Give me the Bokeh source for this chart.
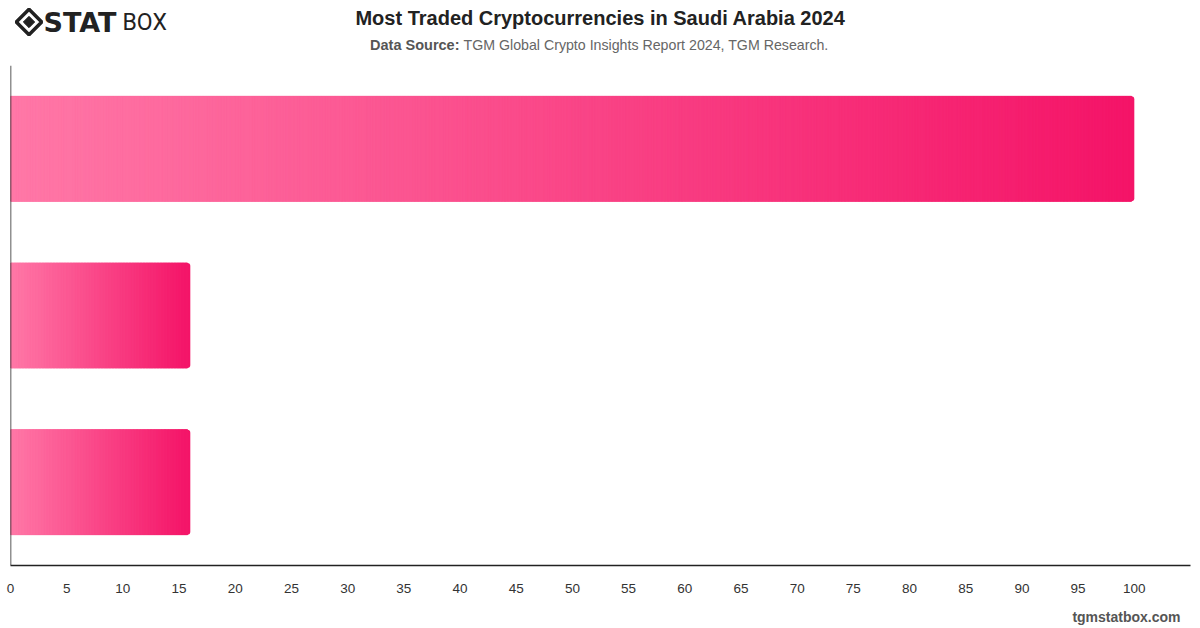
from bokeh.plotting import figure
from bokeh.layouts import column
from bokeh.models import ColumnDataSource, FactorRange, Range1d, FixedTicker, Span
from bokeh.core.properties import value
from bokeh.embed import file_html
from bokeh.resources import INLINE

# Data
categories = ["Bitcoin", "Ethereum", "Tether"]
shares = [100, 16, 16]
x_ticks = list(range(0, 101, 5))

TITLE = "Most Traded Cryptocurrencies in Saudi Arabia 2024"
SOURCE_LABEL = "Data Source:"
SOURCE_TEXT = "TGM Global Crypto Insights Report 2024, TGM Research."
FOOTER = "tgmstatbox.com"

# Gradient endpoints for the bars (left -> right)
LEFT_RGB = (255, 120, 167)
RIGHT_RGB = (244, 20, 104)
SLICES_PER_UNIT = 4

W = 1200
PAD = 10  # side padding of the chart frame
HEADER_H, MAIN_H, FOOTER_H = 65, 534, 29
FONT = "Liberation Sans"


def text_strip(height):
    """A blank figure whose data units are pixels, y growing downwards."""
    f = figure(width=W, height=height, x_range=Range1d(PAD, W - PAD),
               y_range=Range1d(height, 0),
               output_backend="svg", toolbar_location=None,
               min_border_left=PAD, min_border_right=PAD,
               min_border_top=0, min_border_bottom=0)
    f.axis.visible = False
    f.grid.visible = False
    f.outline_line_color = None
    f.background_fill_color = "white"
    f.border_fill_color = "white"
    return f


# Header: logo, title and source line
header = text_strip(HEADER_H)
header.scatter(x=[28.5], y=[21.5], marker="square", angle=0.785398, size=18,
               fill_color=None, line_color="#222222", line_width=3.5)
header.scatter(x=[28.5], y=[21.5], marker="square", angle=0.785398, size=8,
               fill_color="#222222", line_color="#222222")
header.text(x=[43], y=[22], text=["STAT"], text_font=value("DejaVu Sans"),
            text_font_size="27px", text_font_style="bold", text_color="#222222",
            text_align="left", text_baseline="middle")
header.text(x=[122], y=[22], text=["BOX"], text_font=value("Roboto"),
            text_font_size="23px", text_color="#222222", text_align="left",
            text_baseline="middle")
header.text(x=[600], y=[17], text=[TITLE], text_font=value(FONT),
            text_font_size="20px", text_font_style="bold", text_color="#222222",
            text_align="center", text_baseline="middle")
header.text(x=[459], y=[44], text=[SOURCE_LABEL], text_font=value(FONT),
            text_font_size="14.5px", text_font_style="bold", text_color="#555555",
            text_align="right", text_baseline="middle")
header.text(x=[463], y=[44], text=[SOURCE_TEXT], text_font=value(FONT),
            text_font_size="14.2px", text_color="#666666", text_align="left",
            text_baseline="middle")

# Main chart
p = figure(
    width=W, height=MAIN_H,
    y_range=FactorRange(*reversed(categories)),
    x_range=Range1d(0, 105),
    output_backend="svg", toolbar_location=None,
    min_border_left=PAD, min_border_right=PAD,
    min_border_top=0, min_border_bottom=MAIN_H - 500,
)
p.outline_line_color = None
p.grid.visible = False
p.yaxis.visible = False
p.background_fill_color = "white"
p.border_fill_color = "white"


def mix(t):
    r, g, b = (round(a + (c - a) * t) for a, c in zip(LEFT_RGB, RIGHT_RGB))
    return f"#{r:02x}{g:02x}{b:02x}"


# Solid end-colour bar with rounded right corners underneath
p.hbar(y=categories, left=0, right=shares, height=0.63,
       fill_color=mix(1.0), line_color=None, border_radius=(0, 3, 3, 0))

# Horizontal gradient built from thin slices of each bar
ys, lefts, rights, colors = [], [], [], []
for cat, v in zip(categories, shares):
    n = max(20, int(v * SLICES_PER_UNIT))
    for k in range(n - 1):
        ys.append(cat)
        lefts.append(v * k / n)
        rights.append(v * (k + 1) / n)
        colors.append(mix(k / (n - 1)))
src = ColumnDataSource(dict(y=ys, left=lefts, right=rights, color=colors))
p.hbar(y="y", left="left", right="right", height=0.63, source=src,
       fill_color="color", line_color="color", line_width=1.0)

# Axes
p.xaxis.ticker = FixedTicker(ticks=x_ticks)
p.xaxis.axis_line_color = "#222222"
p.xaxis.axis_line_width = 1.5
p.xaxis.major_tick_line_color = None
p.xaxis.minor_tick_line_color = None
p.xaxis.major_label_standoff = 12
p.xaxis.major_label_text_font = FONT
p.xaxis.major_label_text_font_size = "13.5px"
p.xaxis.major_label_text_color = "#333333"

p.add_layout(Span(location=0, dimension="height", line_color="#222222", line_width=1.5))

# Footer
footer = text_strip(FOOTER_H)
footer.text(x=[1180], y=[17], text=[FOOTER], text_font=value(FONT),
            text_font_size="14px", text_font_style="bold", text_color="#555555",
            text_align="right", text_baseline="middle")

layout = column(header, p, footer, spacing=0)
open("out.html", "w").write(file_html(layout, INLINE))
